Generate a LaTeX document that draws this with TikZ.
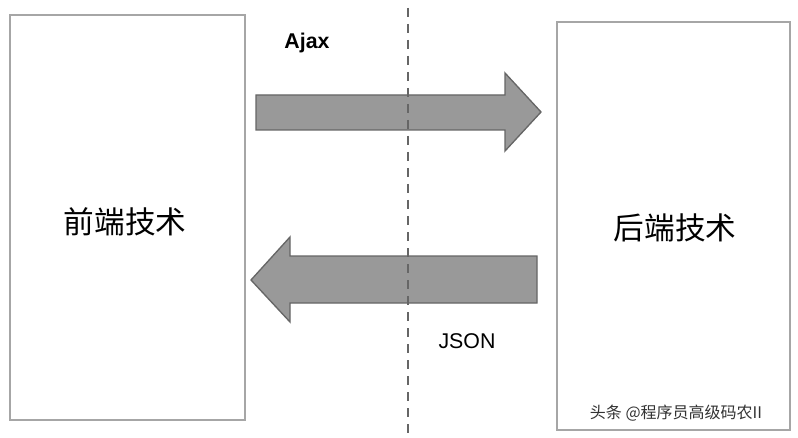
\documentclass[tikz,border=0pt]{standalone}
\usepackage{fontspec}
\setmainfont{Liberation Sans}
\newfontfamily\cjk{Noto Sans CJK SC}
\begin{document}
\begin{tikzpicture}[x=0.75pt,y=-0.75pt,
  box/.style={draw=black!35,line width=1.5pt},
  fatarrow/.style={fill=black!40,draw=black!60,line width=1pt},
  lbl/.style={font=\fontsize{16}{19}\selectfont},
  cjklbl/.style={font=\cjk\fontsize{23}{27}\selectfont}]
\useasboundingbox (0,0) rectangle (798,438);
\fill[white] (0,0) rectangle (798,438);
\draw[box] (10,15) rectangle (245,420);
\draw[box] (557,22) rectangle (790,430);
\draw[fatarrow] (256,95) -- (505,95) -- (505,73) -- (541,112) -- (505,151) -- (505,130) -- (256,130) -- cycle;
\draw[fatarrow] (537,256) -- (290,256) -- (290,237) -- (251,280) -- (290,322) -- (290,303) -- (537,303) -- cycle;
\draw[dashed,black!60,line width=1.2pt,dash pattern=on 7pt off 5pt] (408,8) -- (408,438);
\node[lbl,font=\bfseries\fontsize{16}{19}\selectfont] (ajax) at (307,43) {Ajax};
\node[lbl] (json) at (467,341) {JSON};
\node[cjklbl] (fe) at (125,222) {前端技术};
\node[cjklbl] (be) at (675,228) {后端技术};
\node[font=\cjk\fontsize{12}{14}\selectfont,text=black!80] (wm) at (676,413) {头条 @程序员高级码农II};
\end{tikzpicture}
\end{document}
